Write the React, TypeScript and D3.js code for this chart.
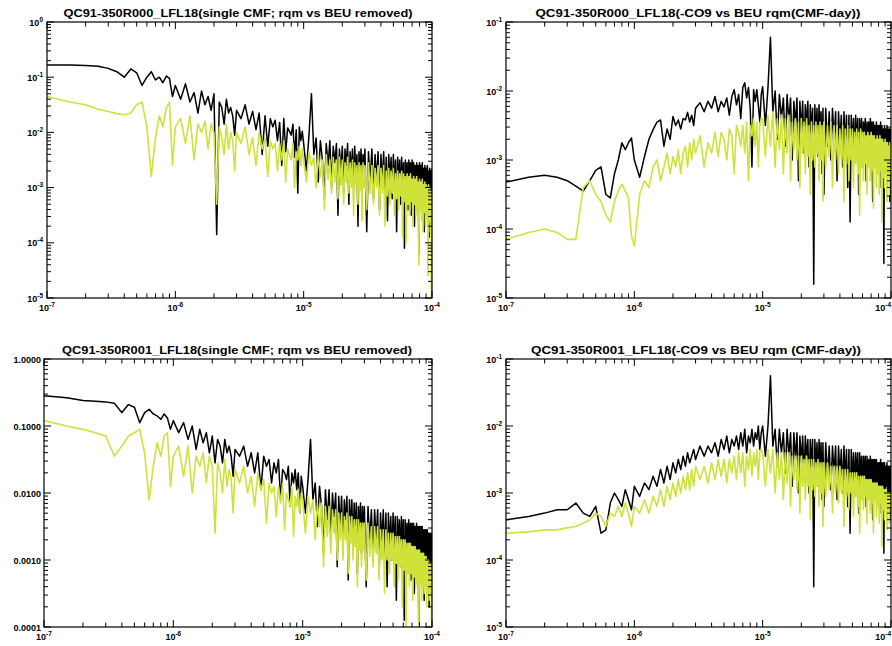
import React from "react";
import * as d3 from "d3";

// frequency samples, in units of 1e-7 (denser toward high frequency, like the periodogram)
const freqUnits = [
  1, 1.5, 2, 2.5, 3, 3.5, 4, 4.5, 5, 5.5, 6, 6.5, 7, 7.5, 8, 8.5, 9, 9.5,
  10, 11, 12, 13, 14, 15, 16, 17, 18, 19, 20, 21, 22, 23, 24, 25, 26, 27, 28, 29,
  30, 32.5, 35, 37.5, 40, 42.5, 45, 47.5, 50, 52.5, 55, 57.5, 60, 62.5,
  65, 67.5, 70, 72.5, 75, 77.5, 80, 82.5, 85, 87.5, 90, 92.5, 95, 97.5,
  100, 105, 110, 115, 120, 125, 130, 135, 140, 145,
  150, 155, 160, 165, 170, 175, 180, 185, 190, 195,
  200, 205, 210, 215, 220, 225, 230, 235, 240, 245,
  250, 255, 260, 265, 270, 275, 280, 285, 290, 295,
  300, 310, 320, 330, 340, 350, 360, 370, 380, 390,
  400, 410, 420, 430, 440, 450, 460, 470, 480, 490,
  500, 510, 520, 530, 540, 550, 560, 570, 580, 590,
  600, 610, 620, 630, 640, 650, 660, 670, 680, 690,
  700, 710, 720, 730, 740, 750, 760, 770, 780, 790,
  800, 810, 820, 830, 840, 850, 860, 870, 880, 890,
  900, 910, 920, 930, 940, 950, 960, 970, 980, 990,
  1000,
];
const FREQ_UNIT = 1e-7;

// power values, stored as log10
const tlBlack = [
  -0.78, -0.78, -0.79, -0.8, -0.84, -0.9, -1.0, -0.85, -0.92, -1.15, -1.0, -0.9, -1.05, -1.0, -1.1, -0.98, -1.02, -1.35,
  -1.15, -1.4, -1.12, -1.45, -1.28, -1.65, -1.25, -1.5, -1.35, -1.6, -1.3, -3.85, -1.45, -1.55, -1.85, -1.4, -1.65, -1.55, -1.7, -2.05,
  -1.6, -1.75, -1.5, -1.85, -1.62, -1.95, -1.65, -2.4, -1.7, -2.25, -1.75, -1.9, -1.78, -2.15,
  -1.82, -2.6, -1.75, -2.35, -1.92, -1.98, -2.05, -1.85, -2.45, -1.95, -3.1, -1.9, -2.15, -1.98,
  -2.2, -2.7, -2.05, -1.3, -2.4, -2.1, -2.9, -2.15, -2.5, -3.2,
  -2.2, -2.6, -2.15, -3.0, -2.25, -2.55, -2.2, -3.5, -2.3, -2.7,
  -2.25, -3.1, -2.3, -2.6, -2.2, -3.3, -2.35, -2.75, -2.3, -3.0,
  -2.25, -2.8, -2.4, -3.7, -2.35, -2.7, -2.3, -3.1, -2.4, -2.75,
  -2.3, -3.8, -2.35, -2.9, -2.3, -3.2, -2.4, -2.85, -2.35, -3.4,
  -2.4, -2.95, -2.35, -3.1, -2.45, -3.6, -2.4, -2.9, -2.45, -3.2,
  -2.4, -3.0, -2.5, -3.8, -2.45, -2.95, -2.5, -3.3, -2.45, -3.05,
  -2.55, -4.1, -2.5, -3.0, -2.55, -3.4, -2.5, -3.1, -2.55, -3.5,
  -2.5, -3.15, -2.55, -3.7, -2.6, -3.1, -2.55, -3.3, -2.6, -4.2,
  -2.55, -3.2, -2.6, -3.4, -2.55, -3.15, -2.65, -3.8, -2.6, -3.2,
  -2.65, -3.5, -2.6, -3.25, -2.7, -3.9, -2.65, -3.2, -2.7, -3.6,
  -2.65,
];
const tlYellow = [
  -1.35, -1.45, -1.5, -1.58, -1.62, -1.66, -1.68, -1.65, -1.5, -1.45, -1.9, -2.8, -2.1, -1.7, -1.9, -1.55, -1.45, -2.6,
  -1.9, -1.75, -2.2, -1.7, -2.5, -1.85, -2.0, -1.8, -2.3, -1.85, -2.0, -3.3, -1.9, -2.1, -2.4, -1.85, -2.3, -2.0, -2.15, -2.7,
  -2.0, -2.2, -1.9, -2.4, -2.1, -2.6, -2.0, -2.3, -2.1, -2.8, -2.15, -2.3, -2.2, -2.7,
  -2.2, -2.5, -2.15, -2.9, -2.3, -2.4, -2.5, -2.2, -3.0, -2.35, -2.5, -2.25, -2.6, -2.3,
  -2.5, -2.9, -2.35, -2.6, -2.45, -3.0, -2.4, -2.8, -2.5, -3.4,
  -2.4, -2.85, -2.5, -3.1, -2.45, -2.9, -2.5, -3.2, -2.45, -2.95,
  -2.5, -3.3, -2.55, -2.9, -2.45, -3.1, -2.55, -3.0, -2.5, -3.5,
  -2.55, -2.95, -2.6, -3.3, -2.55, -3.05, -2.6, -3.6, -2.55, -3.0,
  -2.6, -3.4, -2.55, -3.1, -2.6, -3.3, -2.65, -3.0, -2.6, -3.5,
  -2.65, -3.1, -2.6, -3.7, -2.7, -3.15, -2.65, -3.3, -2.7, -3.1,
  -2.65, -3.5, -2.75, -3.2, -2.7, -3.4, -2.75, -3.15, -2.7, -3.9,
  -2.75, -3.25, -2.8, -4.0, -2.75, -3.3, -2.8, -3.5, -2.75, -3.25,
  -2.85, -3.7, -2.8, -3.3, -2.85, -3.5, -2.8, -3.35, -2.9, -4.4,
  -2.85, -3.4, -2.9, -3.6, -2.85, -3.8, -2.95, -3.45, -2.9, -3.7,
  -2.95, -3.5, -3.0, -4.6, -2.95, -3.6, -3.0, -3.8, -3.05, -5.0,
  -3.1,
];
const trBlack = [
  -3.32, -3.25, -3.22, -3.25, -3.3, -3.38, -3.45, -3.3, -3.15, -3.1, -3.5, -3.55, -3.2, -3.0, -2.75, -2.85, -2.75, -2.68,
  -3.0, -3.25, -2.95, -2.7, -2.56, -2.45, -2.42, -2.8, -2.55, -2.7, -2.37, -2.5, -2.42, -2.55, -2.4, -2.42, -2.31, -2.45, -2.35, -2.5,
  -2.25, -2.17, -2.3, -2.15, -2.25, -2.08, -2.3, -2.15, -2.23, -2.1, -2.35, -2.08, -1.98, -2.2,
  -2.05, -2.4, -1.95, -1.88, -2.1, -1.95, -2.25, -3.1, -1.98, -2.15, -1.98, -2.2, -2.45, -2.05,
  -1.94, -2.5, -1.95, -1.22, -2.3, -2.0, -2.7, -2.05, -2.4, -2.1,
  -2.8, -2.05, -2.45, -2.1, -3.0, -2.15, -2.5, -2.1, -3.3, -2.15,
  -2.6, -2.15, -2.9, -2.2, -2.5, -2.15, -3.1, -2.2, -2.6, -2.25,
  -4.8, -2.2, -2.7, -2.25, -2.95, -2.2, -2.65, -2.3, -3.2, -2.25,
  -3.5, -2.25, -2.8, -2.3, -3.0, -2.25, -2.7, -2.3, -3.3, -2.3,
  -2.75, -2.35, -3.1, -2.3, -2.8, -2.35, -3.4, -2.35, -3.9, -2.35,
  -2.85, -2.4, -3.0, -2.35, -2.8, -2.4, -3.5, -2.4, -2.85, -2.4,
  -3.1, -2.45, -2.8, -2.4, -3.3, -2.45, -2.9, -2.45, -3.0, -2.4,
  -2.85, -2.45, -3.6, -2.45, -2.9, -2.5, -3.1, -2.45, -2.85, -2.5,
  -3.2, -2.5, -2.9, -2.45, -3.4, -2.5, -2.95, -2.55, -4.5, -2.5,
  -3.0, -2.55, -2.9, -2.5, -3.2, -2.55, -2.95, -2.55, -3.6, -2.55,
  -2.6,
];
const trYellow = [
  -4.15, -4.05, -4.0, -4.05, -4.15, -4.15, -3.4, -3.3, -3.5, -3.6, -3.8, -3.9, -3.6, -3.45, -3.35, -3.45, -3.55, -4.1,
  -4.25, -3.5, -3.3, -3.4, -3.1, -3.0, -3.3, -3.1, -2.9, -3.2, -2.95, -3.1, -2.85, -3.2, -2.9, -2.8, -3.1, -2.75, -3.0, -2.7,
  -2.9, -2.65, -3.1, -2.75, -2.9, -2.6, -2.95, -2.6, -2.7, -3.0, -2.55, -2.65, -3.2, -2.5,
  -2.6, -2.8, -2.5, -2.9, -2.45, -3.3, -2.5, -2.65, -2.4, -2.8, -2.45, -3.1, -2.5, -2.4,
  -2.4, -2.95, -2.35, -2.8, -2.3, -3.1, -2.4, -2.85, -2.35, -3.2,
  -2.4, -2.9, -2.35, -3.3, -2.45, -2.85, -2.4, -3.0, -2.45, -3.4,
  -2.4, -2.9, -2.45, -3.2, -2.4, -2.95, -2.5, -3.5, -2.45, -3.0,
  -2.5, -3.1, -2.45, -2.9, -2.5, -3.3, -2.45, -3.0, -2.5, -3.6,
  -2.45, -3.1, -2.5, -2.95, -2.45, -3.4, -2.5, -3.0, -2.5, -3.2,
  -2.55, -3.0, -2.5, -3.6, -2.55, -3.05, -2.5, -3.3, -2.55, -3.0,
  -2.55, -3.4, -2.6, -3.05, -2.55, -3.2, -2.6, -3.8, -2.55, -3.1,
  -2.6, -3.3, -2.6, -3.05, -2.65, -3.5, -2.6, -3.1, -2.65, -3.3,
  -2.6, -3.15, -2.65, -3.7, -2.65, -3.1, -2.7, -3.4, -2.65, -3.2,
  -2.7, -3.5, -2.65, -3.15, -2.7, -3.9, -2.7, -3.25, -2.75, -3.4,
  -2.7, -3.2, -2.75, -3.6, -2.75, -3.25, -2.8, -3.5, -2.75, -3.2,
  -2.8,
];
const blBlack = [
  -0.55, -0.58, -0.62, -0.63, -0.64, -0.66, -0.8, -0.68, -0.72, -0.95, -0.8, -0.75, -0.82, -0.85, -0.9, -0.82, -0.88, -1.05,
  -0.92, -1.1, -0.95, -1.2, -1.0, -1.35, -1.05, -1.25, -1.1, -1.4, -1.15, -1.55, -1.2, -1.3, -1.55, -1.2, -1.4, -1.3, -1.45, -1.75,
  -1.35, -1.45, -1.3, -1.6, -1.4, -1.7, -1.4, -1.95, -1.45, -1.6, -1.5, -1.85, -1.55, -1.7,
  -1.5, -2.1, -1.65, -1.7, -1.8, -1.6, -2.2, -1.7, -1.85, -1.65, -1.95, -1.7, -2.3, -1.75,
  -1.9, -2.3, -1.8, -1.2, -2.1, -1.85, -2.5, -1.9, -2.2, -2.9,
  -1.95, -2.4, -1.95, -2.7, -2.0, -2.35, -2.0, -3.1, -2.05, -2.5,
  -2.05, -2.8, -2.1, -2.4, -2.05, -3.3, -2.1, -2.55, -2.1, -2.8,
  -2.15, -2.6, -2.15, -3.2, -2.2, -2.6, -2.15, -2.9, -2.2, -2.65,
  -2.2, -3.4, -2.2, -2.7, -2.25, -3.0, -2.25, -2.7, -2.25, -3.2,
  -2.3, -2.75, -2.25, -2.95, -2.3, -3.4, -2.3, -2.8, -2.35, -3.0,
  -2.3, -2.85, -2.35, -3.6, -2.35, -2.85, -2.4, -3.1, -2.35, -2.9,
  -2.4, -3.9, -2.4, -2.9, -2.45, -3.2, -2.4, -2.95, -2.45, -3.3,
  -2.45, -3.0, -2.45, -3.5, -2.5, -2.95, -2.45, -3.2, -2.5, -4.0,
  -2.5, -3.05, -2.5, -3.3, -2.5, -3.05, -2.55, -3.6, -2.55, -3.1,
  -2.55, -3.4, -2.55, -3.1, -2.6, -3.7, -2.6, -3.1, -2.6, -3.5,
  -2.6,
];
const blYellow = [
  -0.92, -1.0, -1.05, -1.1, -1.15, -1.45, -1.3, -1.15, -1.1, -1.05, -1.4, -2.1, -1.6, -1.25, -1.45, -1.15, -1.1, -1.9,
  -1.45, -1.3, -1.75, -1.3, -2.0, -1.45, -1.6, -1.4, -1.85, -1.45, -1.6, -2.6, -1.55, -1.7, -2.0, -1.5, -1.9, -1.65, -1.8, -2.3,
  -1.65, -1.85, -1.6, -2.0, -1.75, -2.2, -1.7, -1.95, -1.8, -2.45, -1.85, -2.0, -1.9, -2.35,
  -1.9, -2.15, -1.85, -2.55, -2.0, -2.1, -2.2, -1.9, -2.65, -2.05, -2.2, -1.95, -2.3, -2.0,
  -2.1, -2.6, -2.05, -2.3, -2.1, -2.7, -2.15, -2.5, -2.15, -3.1,
  -2.2, -2.65, -2.2, -2.9, -2.25, -2.6, -2.25, -3.0, -2.3, -2.7,
  -2.3, -3.0, -2.35, -2.7, -2.3, -3.2, -2.35, -2.75, -2.35, -3.0,
  -2.4, -2.8, -2.4, -3.4, -2.4, -2.85, -2.45, -3.1, -2.45, -2.85,
  -2.45, -3.3, -2.45, -2.95, -2.5, -3.1, -2.5, -2.9, -2.5, -3.3,
  -2.55, -3.0, -2.55, -3.5, -2.55, -3.0, -2.6, -3.2, -2.6, -3.0,
  -2.6, -3.4, -2.65, -3.05, -2.65, -3.3, -2.65, -3.1, -2.7, -3.7,
  -2.7, -3.15, -2.7, -4.0, -2.75, -3.2, -2.75, -3.4, -2.75, -3.2,
  -2.8, -3.6, -2.8, -3.25, -2.8, -3.4, -2.85, -3.3, -2.85, -4.0,
  -2.85, -3.35, -2.9, -3.6, -2.9, -3.4, -2.9, -3.5, -2.95, -3.4,
  -2.95, -3.7, -3.0, -3.45, -3.0, -3.6, -3.05, -3.5, -3.05, -3.9,
  -3.1,
];
const brBlack = [
  -3.4, -3.35, -3.3, -3.25, -3.25, -3.15, -3.3, -3.35, -3.2, -3.6, -3.55, -3.15, -3.0, -3.1, -3.2, -2.95, -3.1, -3.25,
  -2.9, -3.05, -2.85, -2.95, -2.75, -2.9, -2.65, -2.85, -2.6, -2.8, -2.55, -2.7, -2.5, -2.65, -2.45, -2.6, -2.4, -2.55, -2.45, -2.35,
  -2.5, -2.3, -2.45, -2.3, -2.4, -2.25, -2.45, -2.2, -2.35, -2.15, -2.4, -2.2, -2.3, -2.15,
  -2.35, -2.1, -2.3, -2.05, -2.4, -2.15, -2.25, -2.05, -2.3, -2.1, -2.2, -2.0, -2.35, -2.1,
  -2.0, -2.45, -2.0, -1.25, -2.3, -2.05, -2.6, -2.05, -2.4, -2.1,
  -2.7, -2.05, -2.45, -2.1, -2.9, -2.1, -2.5, -2.1, -3.0, -2.15,
  -2.55, -2.15, -2.8, -2.15, -2.5, -2.2, -3.0, -2.2, -2.6, -2.2,
  -4.4, -2.2, -2.7, -2.25, -2.9, -2.2, -2.65, -2.25, -3.1, -2.25,
  -3.2, -2.25, -2.75, -2.3, -2.95, -2.3, -2.7, -2.3, -3.1, -2.3,
  -2.75, -2.35, -3.0, -2.3, -2.8, -2.35, -3.2, -2.35, -3.6, -2.35,
  -2.85, -2.4, -3.0, -2.4, -2.8, -2.4, -3.3, -2.4, -2.85, -2.45,
  -3.1, -2.45, -2.85, -2.45, -3.2, -2.45, -2.9, -2.5, -3.0, -2.45,
  -2.9, -2.5, -3.4, -2.5, -2.9, -2.5, -3.1, -2.5, -2.9, -2.55,
  -3.2, -2.55, -2.9, -2.5, -3.3, -2.55, -2.95, -2.55, -3.9, -2.55,
  -3.0, -2.6, -2.9, -2.55, -3.2, -2.6, -3.0, -2.6, -3.4, -2.6,
  -2.6,
];
const brYellow = [
  -3.6, -3.58, -3.55, -3.55, -3.52, -3.5, -3.45, -3.4, -3.3, -3.35, -3.5, -3.3, -3.35, -3.2, -3.35, -3.15, -3.3, -3.5,
  -3.2, -3.3, -3.1, -3.3, -3.05, -3.2, -2.95, -3.2, -2.9, -3.1, -2.85, -3.05, -2.8, -3.0, -2.75, -2.95, -2.7, -2.95, -2.65, -2.9,
  -2.6, -2.8, -2.6, -2.85, -2.55, -2.8, -2.5, -2.75, -2.5, -2.85, -2.5, -2.7, -2.45, -2.8,
  -2.4, -2.7, -2.4, -2.9, -2.45, -2.65, -2.35, -2.75, -2.4, -2.6, -2.35, -2.8, -2.4, -2.35,
  -2.4, -2.9, -2.35, -2.7, -2.35, -3.0, -2.4, -2.8, -2.4, -3.1,
  -2.4, -2.85, -2.4, -3.2, -2.45, -2.8, -2.45, -2.95, -2.45, -3.3,
  -2.45, -2.9, -2.5, -3.1, -2.45, -2.9, -2.5, -3.4, -2.5, -2.95,
  -2.5, -3.05, -2.55, -2.9, -2.5, -3.2, -2.55, -3.0, -2.55, -3.5,
  -2.55, -3.05, -2.55, -2.95, -2.6, -3.3, -2.6, -3.0, -2.6, -3.15,
  -2.6, -3.0, -2.65, -3.5, -2.65, -3.05, -2.65, -3.25, -2.7, -3.0,
  -2.7, -3.35, -2.7, -3.05, -2.7, -3.2, -2.75, -3.6, -2.75, -3.1,
  -2.75, -3.25, -2.75, -3.05, -2.8, -3.45, -2.8, -3.1, -2.8, -3.3,
  -2.8, -3.15, -2.85, -3.6, -2.85, -3.1, -2.85, -3.35, -2.85, -3.2,
  -2.9, -3.45, -2.9, -3.15, -2.9, -3.8, -2.9, -3.25, -2.95, -3.4,
  -2.95, -3.2, -2.95, -3.55, -3.0, -3.25, -3.0, -3.45, -3.0, -3.2,
  -3.0,
];

const titles = [
  "QC91-350R000_LFL18(single CMF; rqm vs BEU removed)",
  "QC91-350R000_LFL18(-CO9 vs BEU rqm(CMF-day))",
  "QC91-350R001_LFL18(single CMF; rqm vs BEU removed)",
  "QC91-350R001_LFL18(-CO9 vs BEU rqm (CMF-day))",
];

const BLACK = "#000000";
const YELLOW = "#cfe23a";
const FONT = "'Liberation Sans', Arial, sans-serif";
const W = 892;

type PanelProps = {
  id: string;
  x0: number; x1: number; y0: number; y1: number;
  title: string; titleX: number; titleW: number;
  yDomain: [number, number];
  expLabels: boolean;
  black: number[]; yellow: number[];
};

const isDecade = (t: number) => Math.abs(Math.log10(t) - Math.round(Math.log10(t))) < 1e-6;

function ExpText({ v, x, y, anchor }: { v: number; x: number; y: number; anchor: string }) {
  const e = Math.round(Math.log10(v));
  return (
    <text x={x} y={y} textAnchor={anchor} fontFamily={FONT} fontSize={9} fontWeight="bold">
      <tspan>10</tspan>
      <tspan dy={-4} fontSize={6.5}>{e}</tspan>
    </text>
  );
}

function Panel(p: PanelProps) {
  const x = d3.scaleLog().domain([1e-7, 1e-4]).range([p.x0, p.x1]);
  const y = d3.scaleLog().domain(p.yDomain).range([p.y1, p.y0]);
  const line = d3
    .line<number>()
    .x((_, i) => x(freqUnits[i] * FREQ_UNIT))
    .y((d) => y(Math.pow(10, d)));
  const xt = x.ticks();
  const yt = y.ticks();
  const fmt = d3.format(".4f");
  return (
    <g>
      <defs>
        <clipPath id={p.id}>
          <rect x={p.x0} y={p.y0} width={p.x1 - p.x0} height={p.y1 - p.y0} />
        </clipPath>
      </defs>
      <g clipPath={`url(#${p.id})`} fill="none" strokeLinejoin="round">
        <path d={line(p.black) || ""} stroke={BLACK} strokeWidth={1.5} />
        <path d={line(p.yellow) || ""} stroke={YELLOW} strokeWidth={1.6} />
      </g>
      <rect x={p.x0} y={p.y0} width={p.x1 - p.x0} height={p.y1 - p.y0} fill="none" stroke={BLACK} strokeWidth={1.2} />
      {xt.map((t, i) => {
        const len = isDecade(t) ? 7 : 4.5;
        const px = x(t);
        return (
          <g key={"x" + i} stroke={BLACK} strokeWidth={1}>
            <line x1={px} x2={px} y1={p.y1} y2={p.y1 - len} />
            <line x1={px} x2={px} y1={p.y0} y2={p.y0 + len} />
          </g>
        );
      })}
      {yt.map((t, i) => {
        const len = isDecade(t) ? 7 : 4;
        const py = y(t);
        return (
          <g key={"y" + i} stroke={BLACK} strokeWidth={1}>
            <line x1={p.x0} x2={p.x0 + len} y1={py} y2={py} />
            <line x1={p.x1} x2={p.x1 - len} y1={py} y2={py} />
          </g>
        );
      })}
      {xt.filter(isDecade).map((t, i) => {
        const px = x(t);
        const nearEdge = px + 10 > W;
        return (
          <ExpText key={"xl" + i} v={t} x={nearEdge ? W - 1 : px} y={p.y1 + 13} anchor={nearEdge ? "end" : "middle"} />
        );
      })}
      {yt.filter(isDecade).map((t, i) =>
        p.expLabels ? (
          <ExpText key={"yl" + i} v={t} x={p.x0 - 4} y={y(t) + 3.5} anchor="end" />
        ) : (
          <text key={"yl" + i} x={p.x0 - 3} y={y(t) + 3.5} textAnchor="end" fontFamily={FONT} fontSize={9} fontWeight="bold">
            {fmt(t)}
          </text>
        )
      )}
      <text x={p.titleX} y={p.y0 - 5} textAnchor="middle" fontFamily={FONT} fontSize={10} fontWeight="bold"
        textLength={p.titleW} lengthAdjust="spacingAndGlyphs">
        {p.title}
      </text>
    </g>
  );
}

export default function App() {
  return (
    <svg width={892} height={646} style={{ position: "absolute", left: 0, top: 0, background: "#fff" }}>
      <rect width={892} height={646} fill="#fff" />
      <Panel id="c1" x0={47} x1={432} y0={22} y1={298} title={titles[0]} titleX={238} titleW={349}
        yDomain={[1e-5, 1]} expLabels black={tlBlack} yellow={tlYellow} />
      <Panel id="c2" x0={506} x1={891} y0={22} y1={298} title={titles[1]} titleX={698} titleW={325}
        yDomain={[1e-5, 1e-1]} expLabels black={trBlack} yellow={trYellow} />
      <Panel id="c3" x0={44} x1={432} y0={359} y1={627} title={titles[2]} titleX={237} titleW={350}
        yDomain={[1e-4, 1]} expLabels={false} black={blBlack} yellow={blYellow} />
      <Panel id="c4" x0={506} x1={891} y0={359} y1={627} title={titles[3]} titleX={696} titleW={330}
        yDomain={[1e-5, 1e-1]} expLabels black={brBlack} yellow={brYellow} />
    </svg>
  );
}
